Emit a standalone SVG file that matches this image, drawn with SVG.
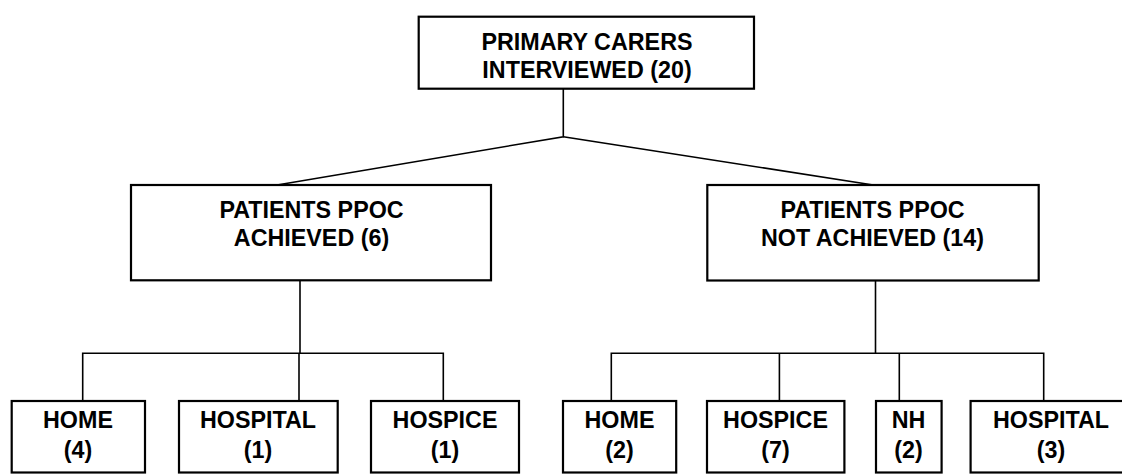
<svg xmlns="http://www.w3.org/2000/svg" width="1122" height="475" viewBox="0 0 1122 475">
<style>
.box{fill:#fff;stroke:#000;stroke-width:2.2}
.ln{fill:none;stroke:#000;stroke-width:1.6}
text{font-family:"Liberation Sans",Arial,sans-serif;font-weight:bold;font-size:23.3px;fill:#000;text-anchor:middle}
</style>
<rect width="1122" height="475" fill="#fff"/>
<g id="connectors">
<polyline class="ln" points="563.3,88.7 563.3,136.7 277,185"/>
<line class="ln" x1="563.3" y1="136.7" x2="873.3" y2="185"/>
<line class="ln" x1="300" y1="280" x2="300" y2="353.3"/>
<polyline class="ln" points="82.7,401 82.7,353.3 443.3,353.3 443.3,401"/>
<line class="ln" x1="299" y1="353.3" x2="299" y2="401"/>
<line class="ln" x1="875.5" y1="280" x2="875.5" y2="353.3"/>
<polyline class="ln" points="611.3,401 611.3,353.3 1043.7,353.3 1043.7,401"/>
<line class="ln" x1="779.4" y1="353.3" x2="779.4" y2="401"/>
<line class="ln" x1="899.3" y1="353.3" x2="899.3" y2="401"/>
</g>
<g id="top">
<rect class="box" x="418.7" y="16.7" width="335.3" height="72"/>
<text x="587" y="50">PRIMARY CARERS</text>
<text x="587" y="78.3">INTERVIEWED (20)</text>
</g>
<g id="achieved">
<rect class="box" x="131" y="185" width="360" height="95.3"/>
<text x="311.5" y="217.5">PATIENTS PPOC</text>
<text x="311.5" y="246">ACHIEVED (6)</text>
</g>
<g id="notachieved">
<rect class="box" x="707.3" y="185" width="331.4" height="95.5"/>
<text x="872.5" y="217.5">PATIENTS PPOC</text>
<text x="872.5" y="246">NOT ACHIEVED (14)</text>
</g>
<g id="home4">
<rect class="box" x="11.7" y="401" width="133.3" height="71.5"/>
<text x="78" y="428.3">HOME</text>
<text x="78" y="458.3">(4)</text>
</g>
<g id="hospital1">
<rect class="box" x="179" y="401" width="158.7" height="71.5"/>
<text x="258" y="428.3">HOSPITAL</text>
<text x="258" y="458.3">(1)</text>
</g>
<g id="hospice1">
<rect class="box" x="371" y="401" width="148" height="71.5"/>
<text x="445" y="428.3">HOSPICE</text>
<text x="445" y="458.3">(1)</text>
</g>
<g id="home2">
<rect class="box" x="563" y="401" width="113.2" height="71.5"/>
<text x="619.5" y="428.3">HOME</text>
<text x="619.5" y="458.3">(2)</text>
</g>
<g id="hospice7">
<rect class="box" x="707" y="401" width="137.4" height="71.5"/>
<text x="775.5" y="428.3">HOSPICE</text>
<text x="775.5" y="458.3">(7)</text>
</g>
<g id="nh2">
<rect class="box" x="876" y="401" width="65.6" height="71.5"/>
<text x="908.5" y="428.3">NH</text>
<text x="908.5" y="458.3">(2)</text>
</g>
<g id="hospital3">
<rect class="box" x="970.6" y="401" width="160.4" height="71.5"/>
<text x="1051" y="428.3">HOSPITAL</text>
<text x="1051" y="458.3">(3)</text>
</g>
</svg>
